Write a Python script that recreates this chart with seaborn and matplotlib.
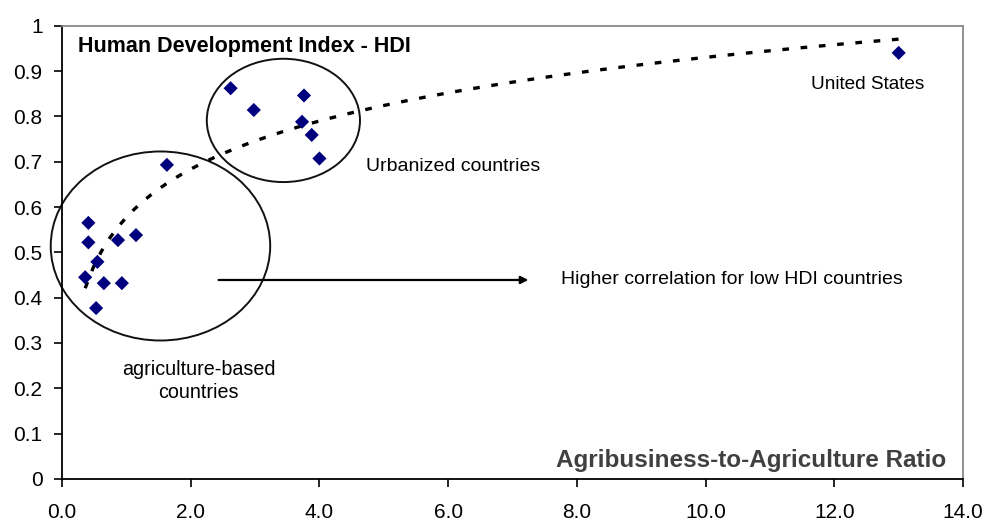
import numpy as np
import pandas as pd
import matplotlib
matplotlib.use("Agg")
from matplotlib import pyplot as plt
from matplotlib.patches import Ellipse
import seaborn as sns

# agribusiness-to-agriculture ratio vs HDI
ratio = [2.62, 2.98, 3.76, 3.73, 3.88, 4.00, 1.63, 0.41, 0.41, 0.87,
         1.15, 0.55, 0.36, 0.65, 0.93, 0.53, 13.00]
hdi = [0.862, 0.814, 0.846, 0.788, 0.759, 0.707, 0.693, 0.565, 0.522, 0.527,
       0.538, 0.479, 0.445, 0.432, 0.432, 0.377, 0.940]

x_ticks = [0, 2, 4, 6, 8, 10, 12, 14]
y_ticks = [0, 0.1, 0.2, 0.3, 0.4, 0.5, 0.6, 0.7, 0.8, 0.9, 1.0]
y_tick_labels = ["0", "0.1", "0.2", "0.3", "0.4", "0.5", "0.6", "0.7", "0.8", "0.9", "1"]

df = pd.DataFrame({"ratio": ratio, "hdi": hdi})

sns.set_style("white")
plt.rcParams["font.family"] = ["Liberation Sans", "DejaVu Sans"]
plt.rcParams["text.color"] = "black"

fig = plt.figure(figsize=(9.84, 5.22), dpi=100)
ax = fig.add_axes([0.063, 0.0824, 0.9157, 0.8684])

# log trendline (like the excel one)
sns.regplot(data=df, x="ratio", y="hdi", logx=True, ci=None, scatter=False, ax=ax,
            line_kws=dict(color="black", lw=2.4, linestyle=(0, (2.0, 3.5))))
sns.scatterplot(data=df, x="ratio", y="hdi", marker="D", color="#00007f", s=52,
                edgecolor="none", ax=ax, zorder=3)

# circles round the two groups
ax.add_patch(Ellipse((1.53, 0.514), 3.41, 0.417, fill=False, ec="#111111", lw=1.4, clip_on=False))
ax.add_patch(Ellipse((3.44, 0.791), 2.38, 0.272, fill=False, ec="#111111", lw=1.4))

ax.annotate("", xy=(7.29, 0.439), xytext=(2.39, 0.439),
            arrowprops=dict(arrowstyle="-|>", color="black", lw=1.6, mutation_scale=11))

ax.text(0.25, 0.953, "Human Development Index - HDI", fontsize=15.5, fontweight="bold", va="center")
ax.text(4.72, 0.69, "Urbanized countries", fontsize=14, va="center")
ax.text(11.63, 0.87, "United States", fontsize=13.7, va="center")
ax.text(7.75, 0.439, "Higher correlation for low HDI countries", fontsize=14, va="center")
ax.text(2.12, 0.216, "agriculture-based\ncountries", fontsize=14.2, ha="center", va="center",
        linespacing=1.3)
ax.text(13.74, 0.04, "Agribusiness-to-Agriculture Ratio", fontsize=17.5, fontweight="bold",
        color="#404040", ha="right", va="center")

ax.set_xlim(0, 14)
ax.set_ylim(0, 1)
ax.set_xticks(x_ticks)
ax.set_xticklabels([f"{t:.1f}" for t in x_ticks])
ax.set_yticks(y_ticks)
ax.set_yticklabels(y_tick_labels)
ax.set_xlabel("")
ax.set_ylabel("")
ax.tick_params(axis="both", labelsize=15, direction="out", length=6, width=1.2,
               left=True, bottom=True, color="black", labelcolor="black")
ax.tick_params(axis="x", pad=11)
ax.tick_params(axis="y", pad=8)

for side in ["left", "bottom"]:
    ax.spines[side].set_color("black")
    ax.spines[side].set_linewidth(1.3)
for side in ["top", "right"]:
    ax.spines[side].set_color("#888888")
    ax.spines[side].set_linewidth(1.3)

fig.savefig("out.png", dpi=100)
